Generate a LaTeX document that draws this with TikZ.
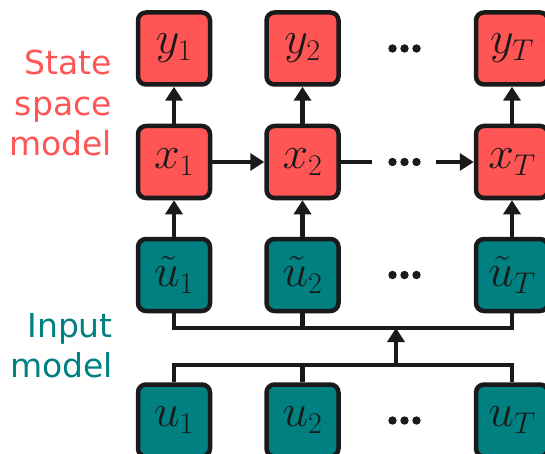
\RequirePackage{fix-cm}
\documentclass[tikz,border=0pt]{standalone}
\usepackage{fontspec}
\newfontfamily\labelfont{DejaVu Sans}
\usetikzlibrary{arrows.meta}
\definecolor{ssred}{HTML}{FF5555}
\definecolor{inteal}{HTML}{008080}
\definecolor{ink}{HTML}{1A1A1A}
\DeclareMathSizes{46}{46}{30}{24}
\tikzset{
  box/.style={draw=ink, line width=4.5pt, rounded corners=8pt, minimum width=72pt,
    minimum height=72pt, inner sep=0pt, text=ink, font=\fontsize{46}{46}\selectfont},
  redbox/.style={box, fill=ssred},
  tealbox/.style={box, fill=inteal},
  conn/.style={draw=ink, line width=4.5pt},
  arr/.style={conn, -{Triangle[length=14pt,width=17pt]}},
  sidelabel/.style={align=right, inner sep=0pt, anchor=east,
    font=\labelfont\fontsize{33}{40.5}\selectfont},
  dotmark/.style={fill=ink}
}
\begin{document}
\begin{tikzpicture}[x=1pt,y=-1pt]
\useasboundingbox (0,0) rectangle (545,454);
% rows
\node[redbox] (y1) at (174,48.5) {$y_1$};
\node[redbox] (y2) at (302.5,48.5) {$y_2$};
\node[redbox] (yT) at (512,48.5) {$y_T$};
\node[redbox] (x1) at (174,162) {$x_1$};
\node[redbox] (x2) at (302.5,162) {$x_2$};
\node[redbox] (xT) at (512,162) {$x_T$};
\node[tealbox] (ut1) at (174,275) {$\tilde{u}_1$};
\node[tealbox] (ut2) at (302.5,275) {$\tilde{u}_2$};
\node[tealbox] (utT) at (512,275) {$\tilde{u}_T$};
\node[tealbox] (u1) at (174,420.5) {$u_1$};
\node[tealbox] (u2) at (302.5,420.5) {$u_2$};
\node[tealbox] (uT) at (512,420.5) {$u_T$};
% labels
\node[sidelabel, text=ssred] (lss) at (112,103) {State\\space\\model};
\node[sidelabel, text=inteal] (lin) at (113,345.5) {Input\\model};
% dots
\foreach \r in {48.5,162,275,420.5}{
  \foreach \d in {392.5,404.5,416.5}{
    \fill[dotmark] (\d,\r) circle (4.2pt);
  }
}
% arrows state space
\draw[arr] (x1) -- (y1);
\draw[arr] (x2) -- (y2);
\draw[arr] (xT) -- (yT);
\draw[arr] (x1) -- (x2);
\coordinate (xa) at (372,162);
\coordinate (xb) at (436,162);
\draw[conn] (x2.east) -- (xa);
\draw[arr] (xb) -- (xT.west);
\draw[arr] (ut1) -- (x1);
\draw[arr] (ut2) -- (x2);
\draw[arr] (utT) -- (xT);
% buses
\coordinate (bu) at (396,328);
\coordinate (bl) at (396,365);
\draw[conn] (ut1.south) -- (ut1.south |- bu) -- (utT.south |- bu) -- (utT.south);
\draw[conn] (ut2.south) -- (ut2.south |- bu);
\draw[conn] (u1.north) -- (u1.north |- bl) -- (uT.north |- bl) -- (uT.north);
\draw[conn] (u2.north) -- (u2.north |- bl);
\draw[arr] (bl) -- (bu);
\end{tikzpicture}
\end{document}
